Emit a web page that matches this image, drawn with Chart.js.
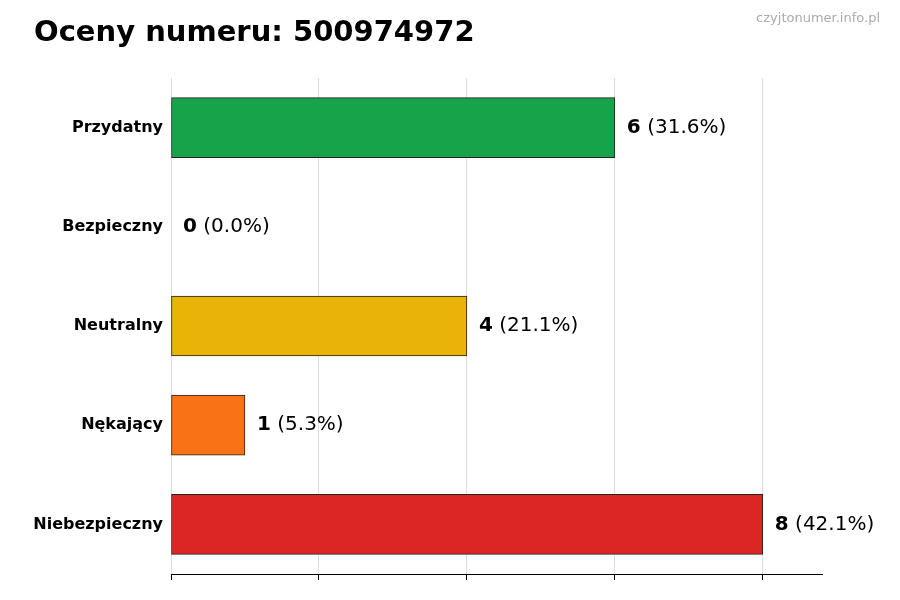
<!DOCTYPE html>
<html><head><meta charset="utf-8">
<script src="https://cdn.jsdelivr.net/npm/chart.js@4/dist/chart.umd.min.js"></script>
<style>html,body{margin:0;padding:0;background:#fff}#w{width:900px;height:600px}</style>
</head><body><div id="w"><canvas id="c"></canvas></div>
<script>
const categories = ["Przydatny","Bezpieczny","Neutralny","Nękający","Niebezpieczny"];
const counts = [6,0,4,1,8];
const percents = ["31.6%","0.0%","21.1%","5.3%","42.1%"];
const colors = ["#16a34a","#16a34a","#eab308","#f97316","#dc2626"];
const titleText = "Oceny numeru: 500974972";
const sourceText = "czyjtonumer.info.pl";

const deco = {
  id:'deco',
  afterDraw(ch){
    const ctx=ch.ctx; ctx.save();
    ctx.fillStyle='#000'; ctx.font='bold 29px "DejaVu Sans"'; ctx.textBaseline='alphabetic';
    ctx.fillText(titleText,34,41);
    ctx.fillStyle='#aaa'; ctx.font='13px "DejaVu Sans"'; ctx.textAlign='right';
    ctx.fillText(sourceText,880,22);
    ctx.textAlign='left'; ctx.textBaseline='middle';
    const meta=ch.getDatasetMeta(0);
    meta.data.forEach((b,i)=>{
      let x=b.x+12; const y=b.y;
      ctx.fillStyle='#000';
      ctx.font='bold 20px "DejaVu Sans"';
      const n=String(counts[i]); ctx.fillText(n,x,y);
      x+=ctx.measureText(n).width;
      ctx.font='20px "DejaVu Sans"';
      ctx.fillText(' ('+percents[i]+')',x,y);
    });
    ctx.restore();
  }
};
new Chart(document.getElementById('c'),{
  type:'bar',
  data:{labels:categories,datasets:[{data:counts,backgroundColor:colors,borderColor:'#222',borderWidth:1,borderSkipped:false,barThickness:60}]},
  options:{indexAxis:'y',responsive:true,maintainAspectRatio:false,animation:false,
    layout:{padding:{top:78,right:78,bottom:20,left:0}},
    plugins:{legend:{display:false},tooltip:{enabled:false}},
    scales:{
      x:{min:0,max:8.8,afterBuildTicks(a){a.ticks=[0,2,4,6,8].map(v=>({value:v}));},
        ticks:{display:false},
        grid:{color:'#ddd',borderDash:[4,3],tickLength:6,drawTicks:true,tickColor:'#000'},
        border:{display:true,color:'#000'}},
      y:{afterFit(a){a.width=171;},
        ticks:{color:'#000',font:{family:'"DejaVu Sans"',size:16,weight:'bold'}},
        grid:{display:false,drawTicks:true,tickLength:5},
        border:{display:false}}
    }},
  plugins:[deco]
});
</script></body></html>
